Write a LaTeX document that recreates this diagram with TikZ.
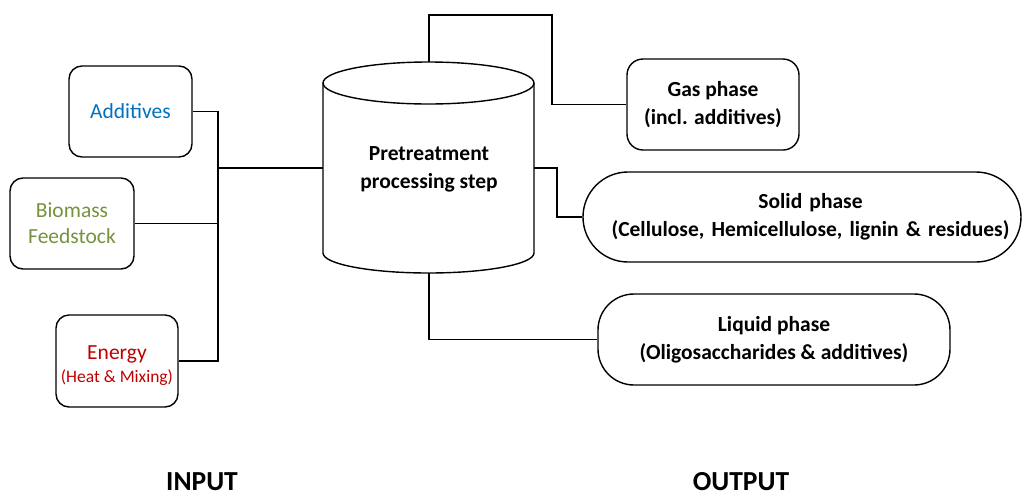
\documentclass[tikz,border=0pt]{standalone}
\usepackage{fontspec}
\setmainfont{Carlito}
\definecolor{addblue}{RGB}{0,112,192}
\definecolor{biogreen}{RGB}{118,146,60}
\definecolor{enred}{RGB}{192,0,0}
\begin{document}
\begin{tikzpicture}[x=1pt,y=1pt,
  conn/.style={line width=1.4pt,draw=black},
  inbox/.style={draw=black,line width=1.4pt,rounded corners=13pt,align=center,inner sep=0pt,
     font=\fontsize{21.5}{26}\selectfont},
  outbox/.style={draw=black,line width=1.4pt,align=center,inner sep=0pt,
     font=\fontsize{21.5}{28}\selectfont\bfseries},
  heading/.style={anchor=base,inner sep=0pt,font=\fontsize{27.5}{30}\selectfont\bfseries}]
\useasboundingbox (0,0) rectangle (1023,-499);
% input boxes
\node[inbox,minimum width=123pt,minimum height=91pt,text=addblue] (add) at (130.5,-111.5) {Additives};
\node[inbox,minimum width=124pt,minimum height=91pt,text=biogreen] (bio) at (72,-223.5) {Biomass\\Feedstock};
\node[inbox,minimum width=122pt,minimum height=92pt,text=enred] (en) at (117,-361) {\raisebox{-10pt}[0pt][0pt]{\begin{tabular}{@{}c@{}}Energy\\[-3pt]{\fontsize{17.5}{20}\selectfont(Heat \& Mixing)}\end{tabular}}};
% cylinder
\draw[conn,fill=white] (323,-83) -- (323,-253) arc[start angle=180,end angle=360,x radius=105.5,y radius=20] -- (534,-83);
\draw[conn] (428.5,-83) ellipse[x radius=105.5,y radius=21];
\node[align=center,inner sep=0pt,font=\fontsize{21.5}{28}\selectfont\bfseries] (cyl) at (429,-169) {Pretreatment\\processing step};
\coordinate (cylL) at (323,-168);
\coordinate (cylR) at (534,-168);
\coordinate (cylT) at (429,-62);
\coordinate (cylB) at (429,-273);
% output boxes
\node[outbox,rounded corners=16pt,minimum width=172pt,minimum height=91pt] (gas) at (713,-104.5) {Gas phase\\(incl. additives)};
\node[outbox,rounded corners=45pt,minimum width=438pt,minimum height=90pt,text width=438pt] (solid) at (802,-217) {\hspace*{17pt}Solid phase\\\hspace*{17pt}(Cellulose, Hemicellulose, lignin \& residues)};
\node[outbox,rounded corners=36pt,minimum width=352pt,minimum height=91pt] (liq) at (774,-339.5) {Liquid phase\\(Oligosaccharides \& additives)};
% connectors
\coordinate (j) at (218,-168);
\coordinate (gtop) at (552,-15);
\coordinate (sb) at (557,-168);
\draw[conn] (add.east) -| (j);
\draw[conn] (bio.east) -| (j);
\draw[conn] (en.east) -| (j);
\draw[conn] (j) -- (cylL);
\draw[conn] (cylT) |- (gtop) |- (gas.west);
\draw[conn] (cylR) -- (sb) |- (solid.west);
\draw[conn] (cylB) |- (liq.west);
% headings
\node[heading] (inp) at (202,-490) {INPUT};
\node[heading] (outp) at (741,-490) {OUTPUT};
\end{tikzpicture}
\end{document}
